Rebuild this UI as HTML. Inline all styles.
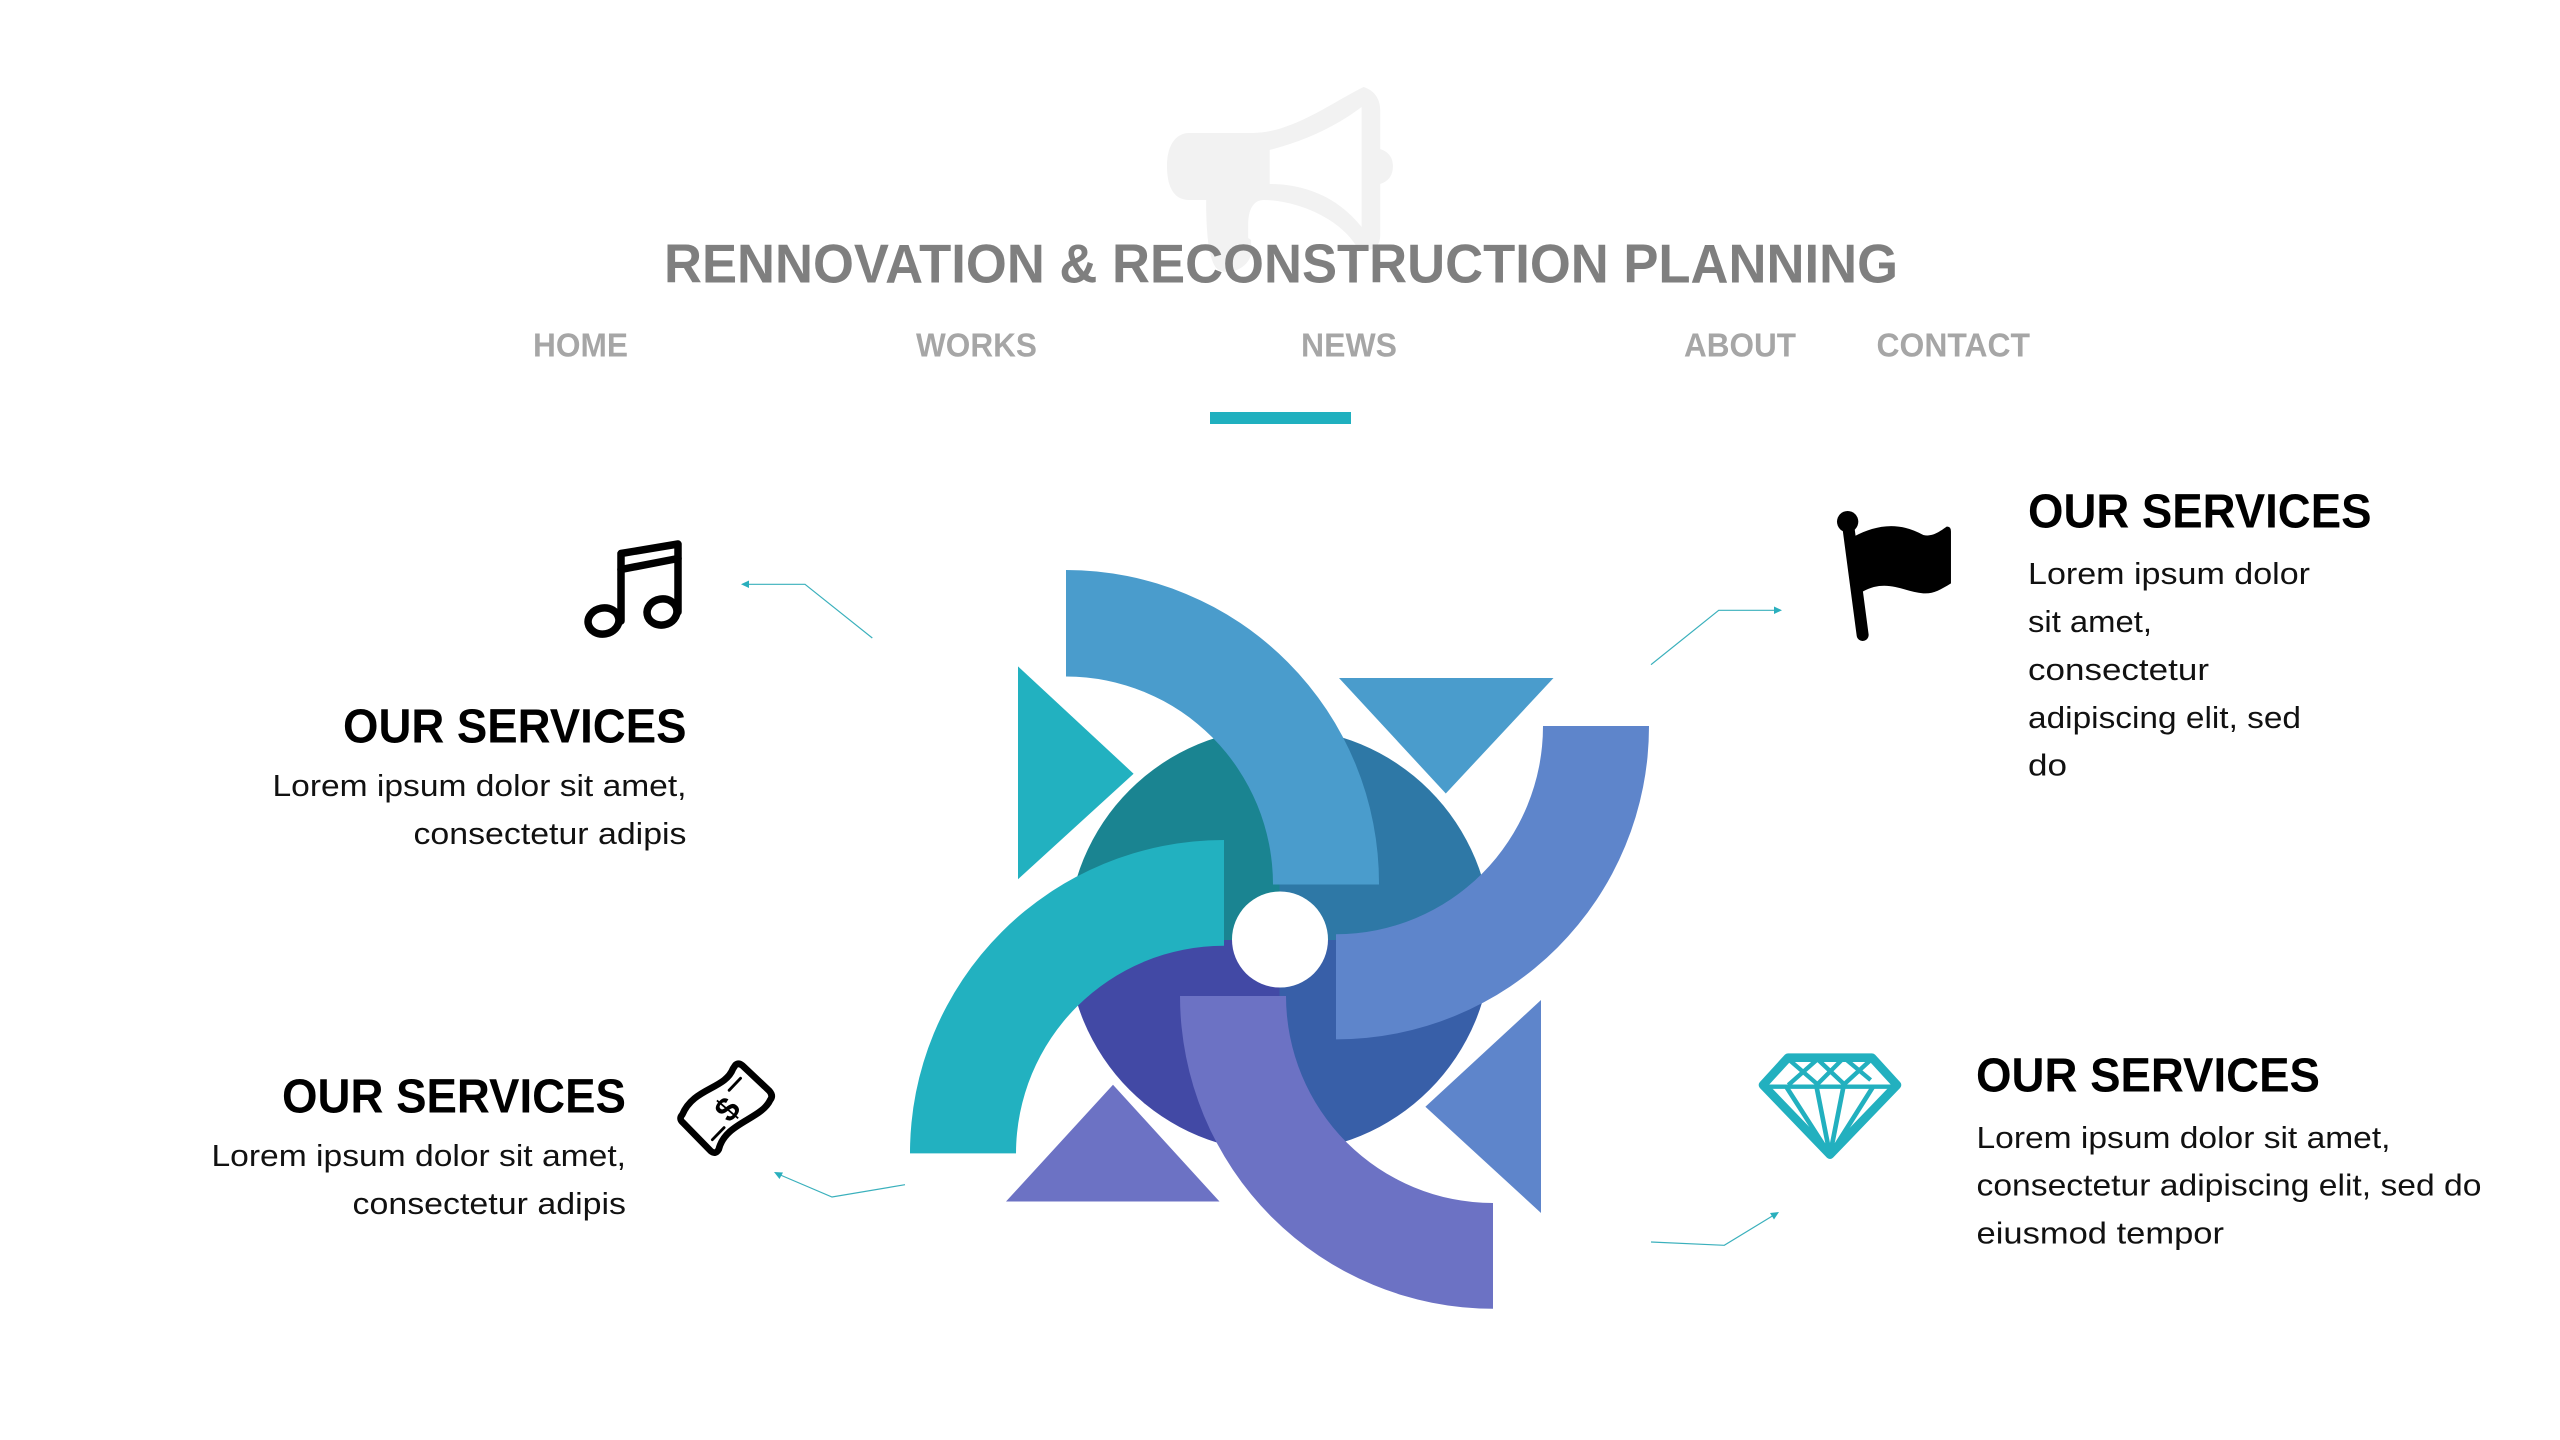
<!DOCTYPE html>
<html lang="en"><head><meta charset="utf-8"><title>Rennovation &amp; Reconstruction Planning</title>
<style>
html,body{margin:0;padding:0;background:#fff}
svg{display:block;font-family:"Liberation Sans",sans-serif}
.h{font-size:48.5px;font-weight:bold;fill:#000}
.b{font-size:30.5px;fill:#111}
.n{font-size:33px;font-weight:bold;fill:#a6a6a6}
</style></head><body>
<svg xmlns="http://www.w3.org/2000/svg" width="2560" height="1440" viewBox="0 0 2560 1440">
<rect width="2560" height="1440" fill="#fff"/>
<!-- megaphone -->
<g transform="translate(1167,0) scale(.978,1) translate(-1167,0)">
<path fill="#f2f2f2" fill-rule="evenodd" d="M1190,133 H1255 C1295,133 1340,100 1368,87 C1378,90 1385,98 1385,110 V149 C1394,152 1398,158 1398,166 C1398,175 1394,181 1385,184 V235 C1385,245 1380,250 1370,250 L1360,245 C1340,215 1295,200 1266,200 C1255,200 1250,210 1250,225 V238 L1253,240 V255 C1248,270 1230,275 1220,270 C1210,265 1207,235 1207,200 H1190 C1176,200 1167,190 1167,166 C1167,145 1176,133 1190,133 Z M1272,150 C1300,143 1335,130 1366,107 V227 C1340,195 1305,184 1272,184 Z"/>
</g>
<text x="664" y="282.7" font-size="55" font-weight="bold" fill="#7f7f7f" textLength="1234" lengthAdjust="spacingAndGlyphs">RENNOVATION &amp; RECONSTRUCTION PLANNING</text>
<text class="n" x="533" y="356.7" textLength="95" lengthAdjust="spacingAndGlyphs">HOME</text>
<text class="n" x="916" y="356.7" textLength="121" lengthAdjust="spacingAndGlyphs">WORKS</text>
<text class="n" x="1301" y="356.7" textLength="96" lengthAdjust="spacingAndGlyphs">NEWS</text>
<text class="n" x="1684" y="356.7" textLength="112" lengthAdjust="spacingAndGlyphs">ABOUT</text>
<text class="n" x="1876.5" y="356.7" textLength="153.5" lengthAdjust="spacingAndGlyphs">CONTACT</text>
<rect x="1210" y="412" width="141" height="12" fill="#20b0bf"/>

<!-- central circle quadrants -->
<path d="M1279.5,940 V728 A212,212 0 0 0 1067.5,940 Z" fill="#1a8491"/>
<path d="M1279.5,940 V728 A212,212 0 0 1 1491.5,940 Z" fill="#2e78a6"/>
<path d="M1279.5,940 V1152 A212,212 0 0 1 1067.5,940 Z" fill="#4249a5"/>
<path d="M1279.5,940 V1152 A212,212 0 0 0 1491.5,940 Z" fill="#385fa8"/>
<!-- arcs -->
<path d="M1066,570 A313,313 0 0 1 1379,884.5 H1273 A207,208 0 0 0 1066,676.5 Z" fill="#4a9ccc"/>
<path d="M1224,840 A314,313 0 0 0 910,1153.4 H1016 A208,208 0 0 1 1224,945.7 Z" fill="#22b1c0"/>
<path d="M1649,726 A313,313 0 0 1 1336,1039.4 V934.2 A207,208 0 0 0 1543,726 Z" fill="#5e85cb"/>
<path d="M1180,996 A313,313 0 0 0 1493,1308.7 V1203 A207,207 0 0 1 1286,996 Z" fill="#6c72c4"/>
<circle cx="1280" cy="939.5" r="48" fill="#fff"/>
<!-- triangles -->
<polygon points="1018,666.4 1133.6,773.7 1018,879.3" fill="#22b1c0"/>
<polygon points="1339,678 1553.5,678 1445.8,793.5" fill="#4a9ccc"/>
<polygon points="1541,1000 1425.4,1106.8 1541,1213" fill="#5e85cb"/>
<polygon points="1113,1084.8 1006,1201.5 1219.5,1201.5" fill="#6c72c4"/>

<!-- connectors -->
<g fill="none" stroke="#3ab0bc" stroke-width="1.2">
<polyline points="872.3,638 805,584.3 746,584.3"/>
<polyline points="905,1184.7 832,1197 778,1174"/>
<polyline points="1651,664.7 1718.7,610.3 1776,610.3"/>
<polyline points="1651,1242 1724.3,1245.3 1774,1215"/>
</g>
<g fill="#2aafbd">
<polygon points="741,584.3 749,580.5 749,588"/>
<polygon points="774,1172 783,1172.5 779.5,1179"/>
<polygon points="1782,610.3 1774,606.5 1774,614"/>
<polygon points="1779,1212 1770,1213 1774,1219.5"/>
</g>

<!-- music icon -->
<g fill="none" stroke="#000" stroke-width="7.5" stroke-linejoin="round" stroke-linecap="round">
<path d="M621,621 V553.5 L678,544 V612"/>
<path d="M621,569.5 L678,558.5"/>
<ellipse cx="603.5" cy="621" rx="15.5" ry="13" transform="rotate(-10 603.5 621)"/>
<ellipse cx="662" cy="612" rx="15" ry="13" transform="rotate(-10 662 612)"/>
</g>

<!-- money icon -->
<g transform="translate(726,1108.5) scale(.95) translate(-726,-1108.5) translate(650,1040) scale(.3333)" fill="none" stroke="#000" stroke-linejoin="round" stroke-linecap="round">
<path stroke-width="21" d="M258,68 Q268,60 280,70 L365,150 Q378,165 368,178 C340,240 225,250 205,335 Q195,352 180,340 L92,250 Q78,238 90,225 C125,140 225,145 250,80 Z"/>
<path stroke-width="9" d="M238,148 L274,110 M185,304 L222,266"/>
</g>
<text transform="translate(727,1109) rotate(-50)" text-anchor="middle" y="12" font-size="34" font-weight="bold" fill="#000">$</text>

<!-- flag icon -->
<g transform="translate(1640,500) scale(.3333)" fill="#000">
<path d="M645,108 C700,80 770,60 850,105 C880,112 905,90 920,80 Q933,78 933,95 V250 C900,270 880,282 850,280 C790,275 740,235 668,275 Z"/>
<line x1="623" y1="65" x2="668" y2="405" stroke="#000" stroke-width="36" stroke-linecap="round"/>
<circle cx="623" cy="65" r="32"/>
</g>

<!-- diamond icon -->
<g transform="translate(1640,1030) scale(.3333)" fill="none" stroke="#22b0bf" stroke-linejoin="round">
<polygon stroke-width="26" points="444,83 696,83 771,165 570,374 369,165"/>
<path stroke-width="13" d="M370,170 H770"/>
<path stroke-width="13" d="M448,90 L535,165 M535,90 L615,165 M620,90 L692,150 M692,90 L610,165 M605,90 L530,165 M530,90 L445,165"/>
<path stroke-width="14" d="M570,375 L440,172 M570,375 L530,172 M570,375 L610,172 M570,375 L698,172"/>
</g>

<!-- text blocks -->
<text class="h" x="343" y="742.7" textLength="343.5" lengthAdjust="spacingAndGlyphs">OUR SERVICES</text>
<text class="b" x="272.5" y="796" textLength="414" lengthAdjust="spacingAndGlyphs">Lorem ipsum dolor sit amet,</text>
<text class="b" x="413.5" y="844" textLength="273" lengthAdjust="spacingAndGlyphs">consectetur adipis</text>

<text class="h" x="282" y="1112.7" textLength="344" lengthAdjust="spacingAndGlyphs">OUR SERVICES</text>
<text class="b" x="211.5" y="1166" textLength="414.5" lengthAdjust="spacingAndGlyphs">Lorem ipsum dolor sit amet,</text>
<text class="b" x="352.5" y="1214" textLength="273.5" lengthAdjust="spacingAndGlyphs">consectetur adipis</text>

<text class="h" x="2028" y="527.7" textLength="343.5" lengthAdjust="spacingAndGlyphs">OUR SERVICES</text>
<text class="b" x="2028" y="583.8" textLength="282" lengthAdjust="spacingAndGlyphs">Lorem ipsum dolor</text>
<text class="b" x="2028" y="632.2" textLength="124" lengthAdjust="spacingAndGlyphs">sit amet,</text>
<text class="b" x="2028" y="680.2" textLength="181" lengthAdjust="spacingAndGlyphs">consectetur</text>
<text class="b" x="2028" y="727.8" textLength="273" lengthAdjust="spacingAndGlyphs">adipiscing elit, sed</text>
<text class="b" x="2028" y="775.5" textLength="39" lengthAdjust="spacingAndGlyphs">do</text>

<text class="h" x="1976" y="1091.7" textLength="344" lengthAdjust="spacingAndGlyphs">OUR SERVICES</text>
<text class="b" x="1976.5" y="1147.8" textLength="414" lengthAdjust="spacingAndGlyphs">Lorem ipsum dolor sit amet,</text>
<text class="b" x="1976.5" y="1195.5" textLength="505" lengthAdjust="spacingAndGlyphs">consectetur adipiscing elit, sed do</text>
<text class="b" x="1976.5" y="1243.5" textLength="247.5" lengthAdjust="spacingAndGlyphs">eiusmod tempor</text>
</svg>
</body></html>
